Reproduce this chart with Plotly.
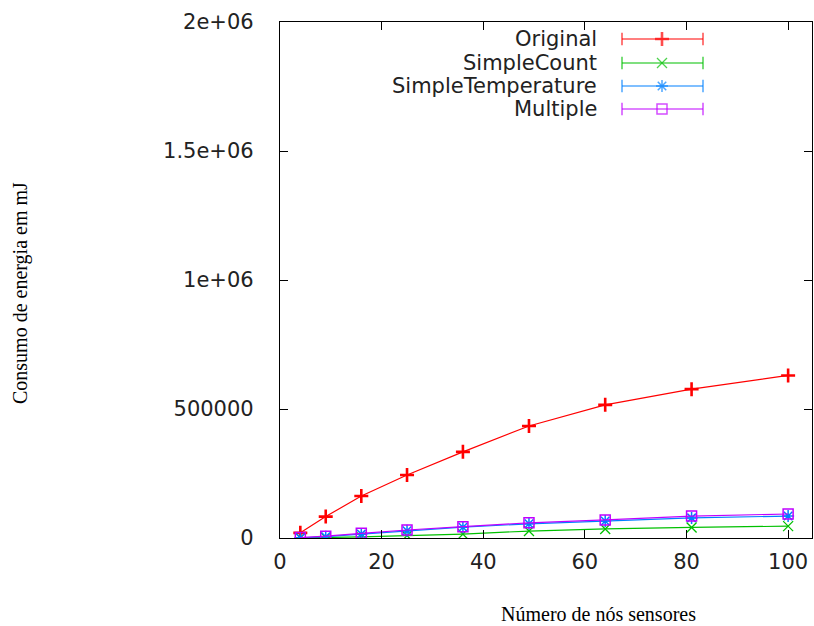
import plotly.graph_objects as go

# ---- data ----
nodes = [4, 9, 16, 25, 36, 49, 64, 81, 100]
original = [20000, 83000, 163000, 244000, 334000, 434000, 516000, 577000, 630000]
simple_count = [500, 1500, 4000, 9000, 15000, 27000, 35000, 41000, 46000]
simple_temperature = [1000, 5000, 15000, 28000, 42000, 55000, 66000, 78000, 85000]
multiple = [1500, 7000, 18000, 31000, 44000, 59000, 70000, 85000, 93000]

series_names = ["Original", "SimpleCount", "SimpleTemperature", "Multiple"]
x_tick_vals = [0, 20, 40, 60, 80, 100]
x_tick_text = ["0", "20", "40", "60", "80", "100"]
y_tick_vals = [0, 500000, 1000000, 1500000, 2000000]
y_tick_text = ["0", "500000", "1e+06", "1.5e+06", "2e+06"]

x_title = "Número de nós sensores"
y_title = "Consumo de energia em mJ"

# ---- styles ----
colors = ["#ff0000", "#00c000", "#0080ff", "#c000ff"]
symbols = ["cross-thin-open", "x-thin-open", "asterisk-open", "square-open"]
msizes = [10, 10, 10, 10]
mlw = [2.6, 1.3, 1.5, 1.5]
values = [original, simple_count, simple_temperature, multiple]

W, H = 814, 626
L, R, T, B = 280, 2, 22, 88
tick_font = dict(family="DejaVu Sans", size=21, color="#222222")
title_font = dict(family="Liberation Serif", size=20, color="#000000")

fig = go.Figure()
for name, ys, c, s, ms, lw in zip(series_names, values, colors, symbols, msizes, mlw):
    fig.add_trace(go.Scatter(
        x=nodes, y=ys, mode="lines+markers", name=name, showlegend=False,
        line=dict(color=c, width=1.2),
        marker=dict(symbol=s, size=ms, color=c, line=dict(color=c, width=lw)),
    ))

# ---- custom gnuplot-style key (overlay axes in paper units) ----
pw, ph = W - L - R, H - T - B
def px2x(px):
    return (px - L) / pw
def py2y(py):
    return (H - B - py) / ph

row_y = [39, 63, 86, 109]
x_start, x_mid, x_end = 622, 662, 703
for i, (name, c, s, ms, lw) in enumerate(zip(series_names, colors, symbols, msizes, mlw)):
    yy = py2y(row_y[i])
    fig.add_trace(go.Scatter(
        x=[px2x(x_start), px2x(x_mid), px2x(x_end)], y=[yy, yy, yy],
        xaxis="x2", yaxis="y2", mode="lines+markers", showlegend=False,
        line=dict(color=c, width=1.2),
        marker=dict(symbol=["line-ns", s, "line-ns"], size=[9, ms, 9], color=c,
                    line=dict(color=c, width=[1.5, lw, 1.5])),
        hoverinfo="skip",
    ))
    fig.add_annotation(x=px2x(599), y=yy, xref="paper", yref="paper", text=name,
                       showarrow=False, xanchor="right", yanchor="middle",
                       font=tick_font)

fig.add_annotation(text=x_title, x=px2x(598), y=py2y(614), xref="paper", yref="paper",
                   showarrow=False, xanchor="center", yanchor="middle",
                   font=title_font)
fig.add_annotation(text=y_title, x=px2x(20), y=py2y(293), xref="paper", yref="paper",
                   showarrow=False, xanchor="center", yanchor="middle", textangle=-90,
                   font=title_font)

fig.update_layout(
    width=W, height=H,
    margin=dict(l=L, r=R, t=T, b=B),
    paper_bgcolor="white", plot_bgcolor="white",
    showlegend=False,
    xaxis=dict(range=[0, 104.7], tickvals=x_tick_vals, ticktext=x_tick_text,
               showgrid=False, zeroline=False, showline=True, linecolor="black",
               linewidth=1.2, mirror="ticks", ticks="inside", ticklen=8,
               tickcolor="black", tickfont=tick_font, ticklabelstandoff=5),
    yaxis=dict(range=[0, 2000000], tickvals=y_tick_vals, ticktext=y_tick_text,
               showgrid=False, zeroline=False, showline=True, linecolor="black",
               linewidth=1.2, mirror="ticks", ticks="inside", ticklen=8,
               tickcolor="black", tickfont=tick_font, ticklabelstandoff=21),
    xaxis2=dict(range=[0, 1], overlaying="x", visible=False, fixedrange=True),
    yaxis2=dict(range=[0, 1], overlaying="y", visible=False, fixedrange=True),
)

fig.write_html("out.html", post_script="document.body.style.margin='0';",
               config={"displayModeBar": False})
